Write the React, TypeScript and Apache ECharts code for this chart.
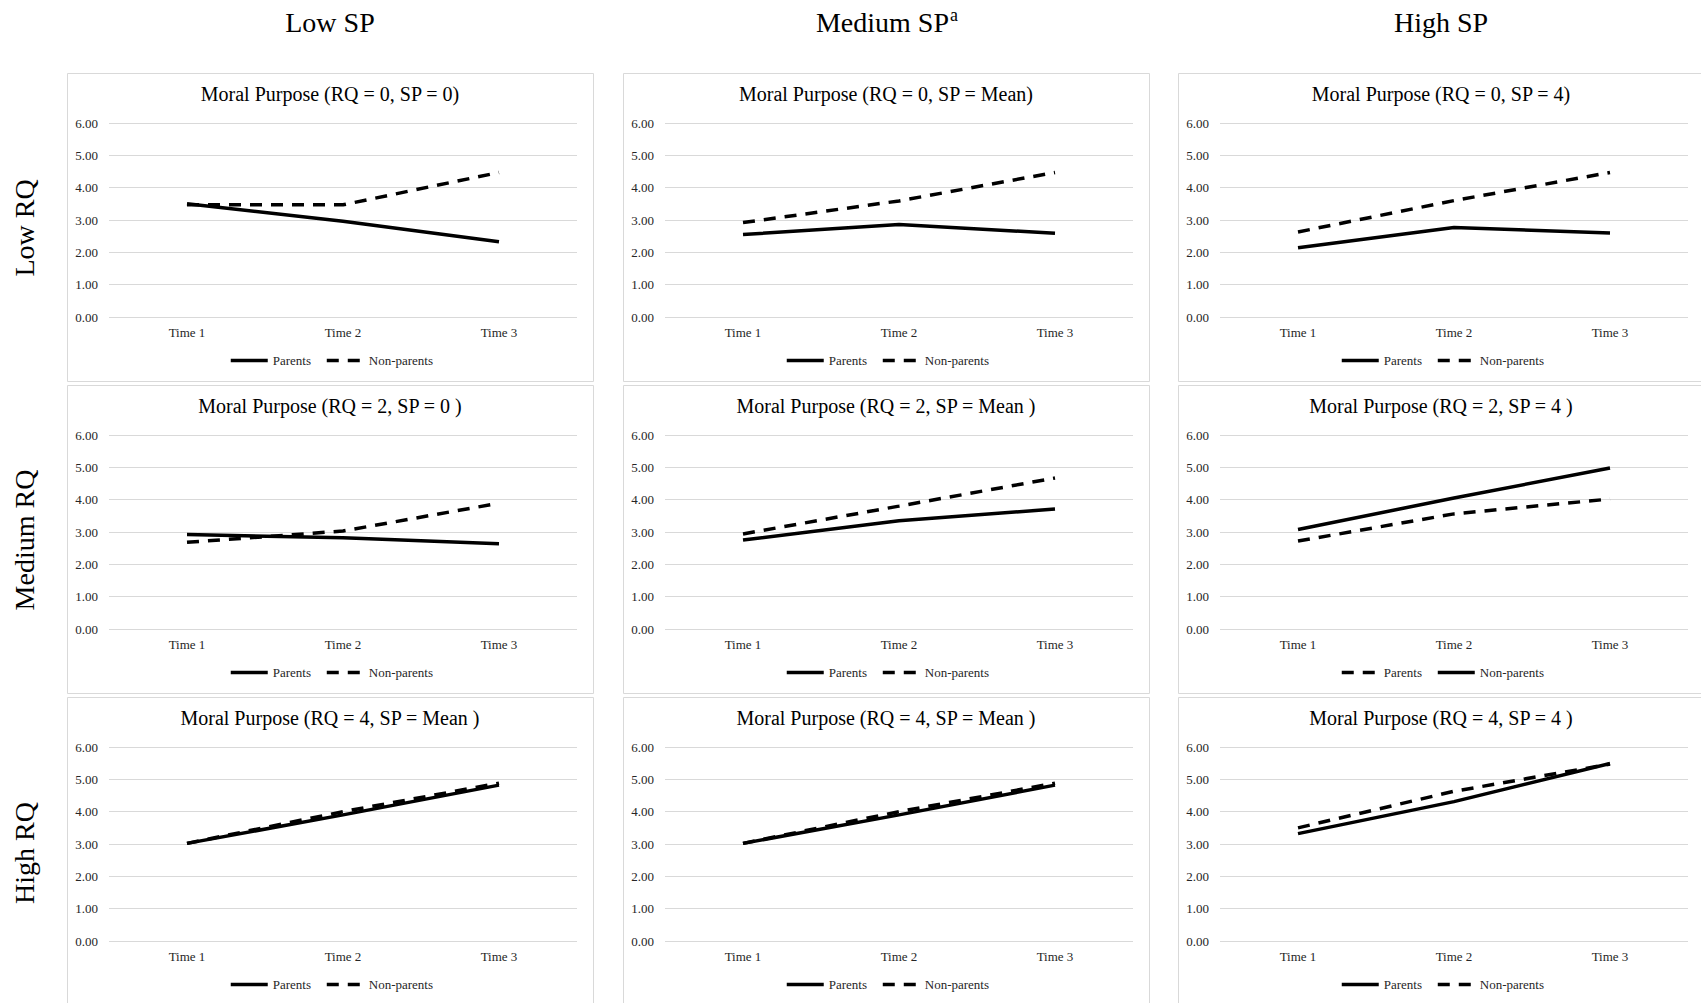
import React, { useEffect, useRef } from 'react';
import * as echarts from 'echarts';

// ---------- data ----------
const categories = ['Time 1', 'Time 2', 'Time 3'];
const yTicks = [0, 1, 2, 3, 4, 5, 6];
const colHeaders = ['Low SP', 'Medium SP', 'High SP'];
const colHeaderSup = ['', 'a', ''];
const rowHeaders = ['Low RQ', 'Medium RQ', 'High RQ'];
const seriesNames = ['Parents', 'Non-parents'];

const panelTitles = [
  'Moral Purpose (RQ = 0, SP = 0)',
  'Moral Purpose (RQ = 0, SP = Mean)',
  'Moral Purpose (RQ = 0, SP = 4)',
  'Moral Purpose (RQ = 2, SP = 0 )',
  'Moral Purpose (RQ = 2, SP = Mean )',
  'Moral Purpose (RQ = 2, SP = 4 )',
  'Moral Purpose (RQ = 4, SP = Mean )',
  'Moral Purpose (RQ = 4, SP = Mean )',
  'Moral Purpose (RQ = 4, SP = 4 )',
];

// Parents values per panel, rows = RQ level, columns = SP level
const parentsLowRQ = [
  [3.5, 2.96, 2.33],
  [2.55, 2.86, 2.59],
  [2.14, 2.77, 2.6],
];
const parentsMediumRQ = [
  [2.92, 2.82, 2.64],
  [2.75, 3.35, 3.71],
  [2.72, 3.56, 4.02],
];
const parentsHighRQ = [
  [3.02, 3.9, 4.82],
  [3.02, 3.9, 4.82],
  [3.32, 4.31, 5.49],
];

// Non-parents values per panel
const nonParentsLowRQ = [
  [3.47, 3.47, 4.47],
  [2.92, 3.59, 4.47],
  [2.63, 3.6, 4.47],
];
const nonParentsMediumRQ = [
  [2.68, 3.03, 3.89],
  [2.94, 3.8, 4.67],
  [3.08, 4.05, 4.98],
];
const nonParentsHighRQ = [
  [3.02, 4.0, 4.88],
  [3.02, 4.0, 4.88],
  [3.5, 4.63, 5.47],
];

// true where the Parents series is drawn dashed (and Non-parents solid)
const parentsDashed = [false, false, false, false, false, true, false, false, false];

// ---------- layout / style ----------
const FONT = "'Liberation Serif', 'Times New Roman', Times, serif";
const PANEL_X0 = 67;
const COL_STEP = 555.5;
const PANEL_Y0 = 73;
const ROW_STEP = 312;
const PANEL_W = 526;
const PANEL_H = 308;
const DASH = [12, 9];
const LINE_W = 3.5;

export default function App() {
  const ref = useRef<HTMLDivElement>(null);

  useEffect(() => {
    const chart = echarts.init(ref.current!, null, { renderer: 'svg' });

    const parents = [parentsLowRQ, parentsMediumRQ, parentsHighRQ];
    const nonParents = [nonParentsLowRQ, nonParentsMediumRQ, nonParentsHighRQ];

    const grids: any[] = [];
    const xAxes: any[] = [];
    const yAxes: any[] = [];
    const series: any[] = [];
    const legends: any[] = [];
    const graphics: any[] = [];

    for (let r = 0; r < 3; r++) {
      for (let c = 0; c < 3; c++) {
        const i = r * 3 + c;
        const px = Math.round(PANEL_X0 + COL_STEP * c);
        const py = PANEL_Y0 + ROW_STEP * r;

        graphics.push({
          type: 'rect',
          z: -10,
          shape: { x: px + 0.5, y: py + 0.5, width: PANEL_W, height: PANEL_H },
          style: { fill: '#ffffff', stroke: '#d9d9d9', lineWidth: 1 },
          silent: true,
        });
        graphics.push({
          type: 'text',
          x: px + PANEL_W / 2,
          y: py + 21,
          style: {
            text: panelTitles[i],
            font: `20px ${FONT}`,
            fill: '#000000',
            align: 'center',
            verticalAlign: 'middle',
          },
        });

        grids.push({ left: px + 42, top: py + 50, width: 468, height: 194 });
        xAxes.push({
          type: 'category',
          gridIndex: i,
          data: categories,
          boundaryGap: true,
          axisLine: { show: false },
          axisTick: { show: false },
          axisLabel: { fontFamily: FONT, fontSize: 13, color: '#262626', margin: 9 },
        });
        yAxes.push({
          type: 'value',
          gridIndex: i,
          min: yTicks[0],
          max: yTicks[yTicks.length - 1],
          interval: 1,
          axisLine: { show: false },
          axisTick: { show: false },
          axisLabel: {
            fontFamily: FONT,
            fontSize: 13,
            color: '#262626',
            margin: 11,
            formatter: (v: number) => v.toFixed(2),
          },
          splitLine: { lineStyle: { color: '#d9d9d9', width: 1 } },
        });

        const pDash = parentsDashed[i];
        const vals = [parents[r][c], nonParents[r][c]];
        const names = seriesNames.map((n) => `${n}|${i}`);
        names.forEach((name, k) => {
          const dashed = k === 0 ? pDash : !pDash;
          series.push({
            type: 'line',
            name,
            xAxisIndex: i,
            yAxisIndex: i,
            data: vals[k],
            symbol: 'none',
            lineStyle: { color: '#000000', width: LINE_W, type: dashed ? DASH : 'solid' },
            itemStyle: { color: '#000000' },
            z: k === 0 ? 3 : 2,
          });
        });

        legends.push({
          data: names,
          formatter: (n: string) => n.split('|')[0],
          left: px + 157,
          top: py + 276,
          itemWidth: 37,
          itemHeight: 14,
          itemGap: 14,
          selectedMode: false,
          itemStyle: { color: 'rgba(0,0,0,0)', borderColor: 'rgba(0,0,0,0)', borderWidth: 0, opacity: 0 },
          lineStyle: { width: LINE_W, color: '#000000' },
          textStyle: { fontFamily: FONT, fontSize: 13, color: '#262626' },
        });
      }
    }

    // column headers
    for (let c = 0; c < 3; c++) {
      const cx = Math.round(PANEL_X0 + COL_STEP * c) + PANEL_W / 2;
      if (colHeaderSup[c]) {
        graphics.push({
          type: 'text',
          x: cx + 63,
          y: 22,
          style: { text: colHeaders[c], font: `28px ${FONT}`, fill: '#000', align: 'right', verticalAlign: 'middle' },
        });
        graphics.push({
          type: 'text',
          x: cx + 64,
          y: 15,
          style: { text: colHeaderSup[c], font: `18px ${FONT}`, fill: '#000', align: 'left', verticalAlign: 'middle' },
        });
      } else {
        graphics.push({
          type: 'text',
          x: cx,
          y: 22,
          style: { text: colHeaders[c], font: `28px ${FONT}`, fill: '#000', align: 'center', verticalAlign: 'middle' },
        });
      }
    }

    // row headers
    const rowCenters = [228, 540, 853];
    for (let r = 0; r < 3; r++) {
      graphics.push({
        type: 'text',
        x: 24,
        y: rowCenters[r],
        rotation: Math.PI / 2,
        style: { text: rowHeaders[r], font: `28px ${FONT}`, fill: '#000', align: 'center', verticalAlign: 'middle' },
      });
    }

    chart.setOption({
      animation: false,
      backgroundColor: '#ffffff',
      grid: grids,
      xAxis: xAxes,
      yAxis: yAxes,
      series,
      legend: legends,
      graphic: graphics,
    });

    return () => chart.dispose();
  }, []);

  return (
    <div
      ref={ref}
      style={{ position: 'absolute', left: 0, top: 0, width: 1701, height: 1003, background: '#fff' }}
    />
  );
}
